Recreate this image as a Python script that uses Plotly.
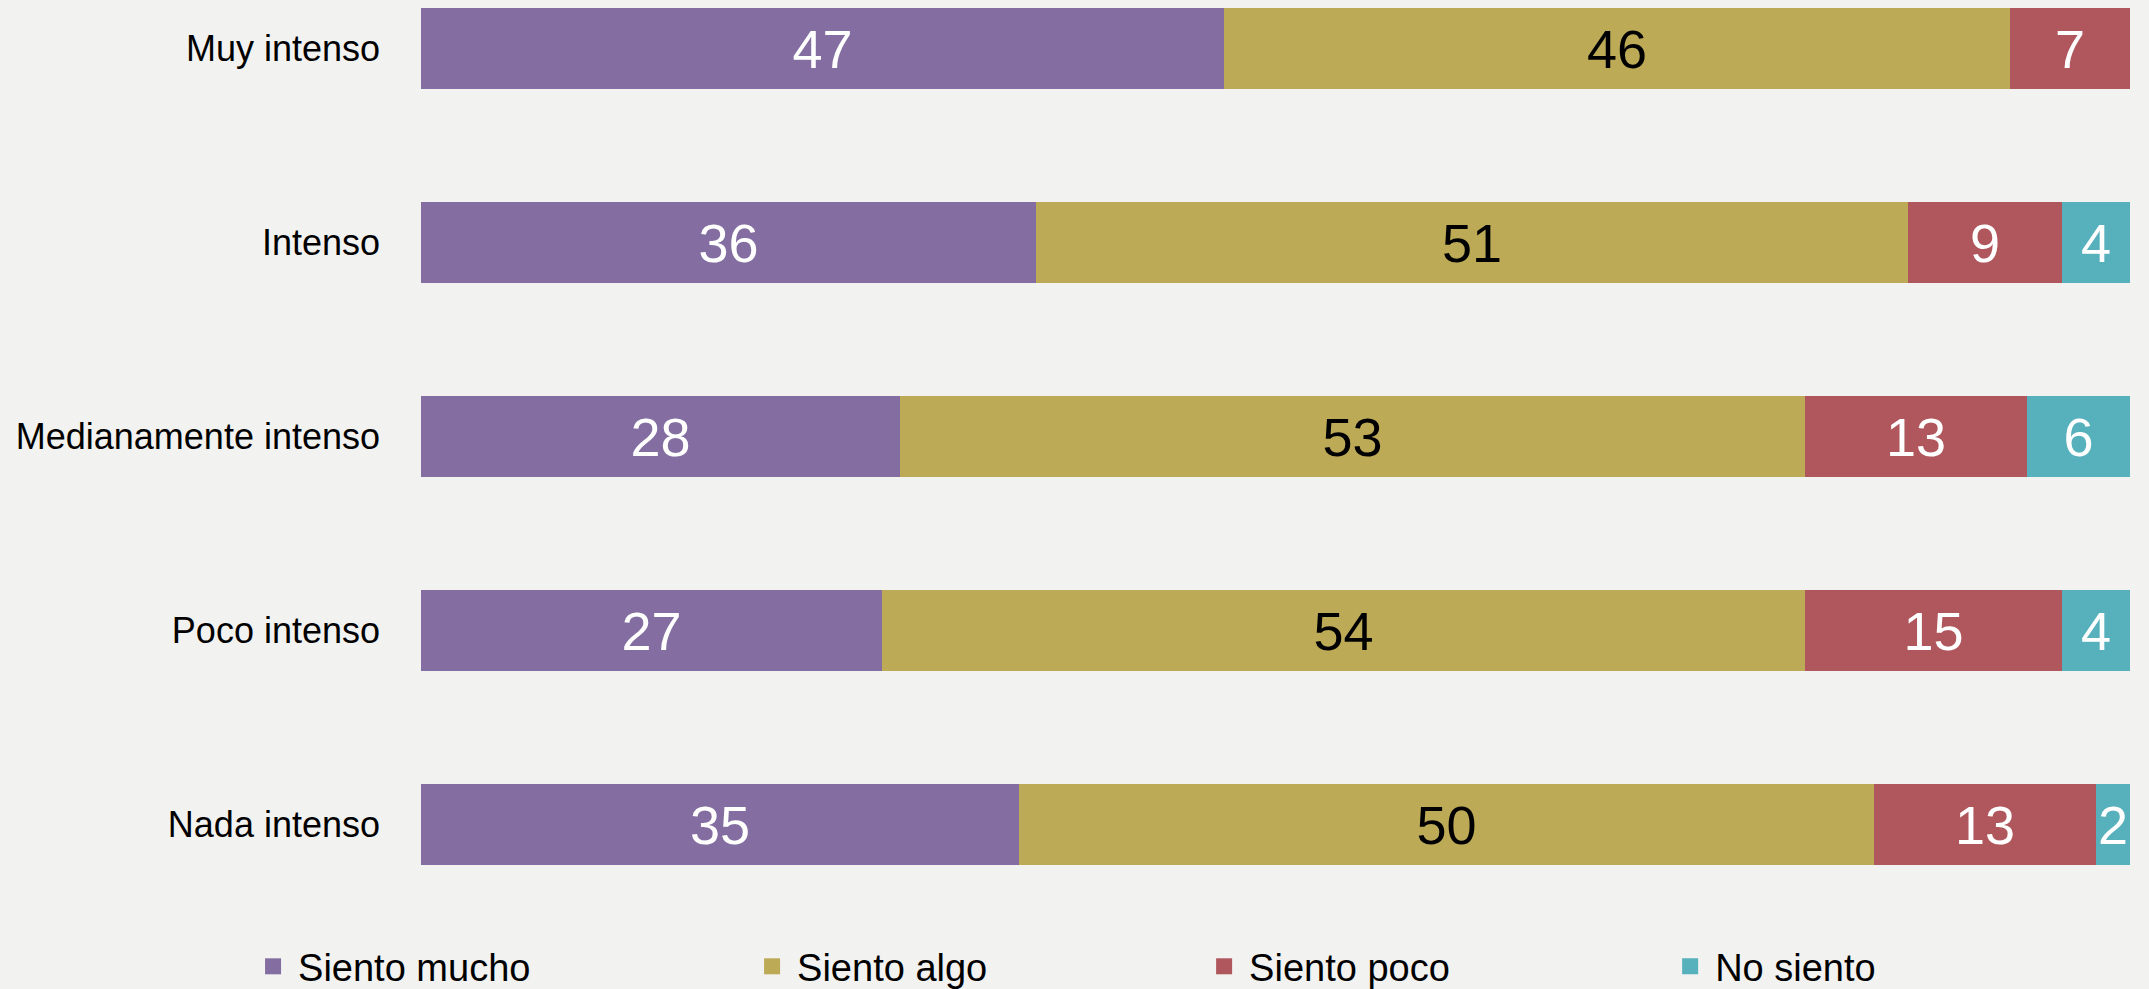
import plotly.graph_objects as go

categories = ["Muy intenso", "Intenso", "Medianamente intenso", "Poco intenso", "Nada intenso"]

series_names = ["Siento mucho", "Siento algo", "Siento poco", "No siento"]
siento_mucho = [47, 36, 28, 27, 35]
siento_algo = [46, 51, 53, 54, 50]
siento_poco = [7, 9, 13, 15, 13]
no_siento = [0, 4, 6, 4, 2]

COLORS = ["#836da1", "#bdaa57", "#b0575d", "#57b1bc"]
TEXT_COLORS = ["white", "black", "white", "white"]
LEGEND_X = [-0.1012, 0.1908, 0.4553, 0.7280]

FONT = "Liberation Sans"

fig = go.Figure()

all_values = [siento_mucho, siento_algo, siento_poco, no_siento]
for i, (name, vals) in enumerate(zip(series_names, all_values)):
    fig.add_trace(
        go.Bar(
            y=categories,
            x=vals,
            orientation="h",
            name=name,
            marker=dict(color=COLORS[i], line=dict(width=0)),
            text=[str(v) if v > 0 else "" for v in vals],
            textposition="inside",
            insidetextanchor="middle",
            constraintext="none",
            textangle=0,
            textfont=dict(family=FONT, size=54, color=TEXT_COLORS[i]),
            showlegend=False,
            width=0.418,
        )
    )
    # legend-only marker so the swatch can be bigger than plotly's bar swatch
    legend_id = "legend" if i == 0 else f"legend{i + 1}"
    fig.add_trace(
        go.Scatter(
            x=[None],
            y=[None],
            mode="markers",
            name=name,
            marker=dict(symbol="square", size=20, color=COLORS[i]),
            legend=legend_id,
            showlegend=True,
        )
    )

legend_style = dict(
    orientation="h",
    yanchor="middle",
    y=-0.074,
    xanchor="left",
    itemwidth=40,
    bgcolor="rgba(0,0,0,0)",
    font=dict(family=FONT, size=38, color="black"),
)

fig.update_layout(
    width=2149,
    height=989,
    barmode="stack",
    bargap=0,
    paper_bgcolor="#f2f2f0",
    plot_bgcolor="#f2f2f0",
    margin=dict(l=421, r=19, t=0, b=89, autoexpand=False),
    font=dict(family=FONT, color="black"),
    legend=dict(legend_style, x=LEGEND_X[0]),
    legend2=dict(legend_style, x=LEGEND_X[1]),
    legend3=dict(legend_style, x=LEGEND_X[2]),
    legend4=dict(legend_style, x=LEGEND_X[3]),
)

fig.update_xaxes(range=[0, 100], visible=False, fixedrange=True)
fig.update_yaxes(
    type="category",
    categoryorder="array",
    categoryarray=categories,
    range=[4.39, -0.251],
    showgrid=False,
    zeroline=False,
    showline=False,
    ticks="",
    ticklabelstandoff=40,
    tickfont=dict(family=FONT, size=36, color="black"),
    fixedrange=True,
)

fig.write_html(
    "out.html",
    config={"displayModeBar": False},
    post_script="document.body.style.margin = '0';",
)
